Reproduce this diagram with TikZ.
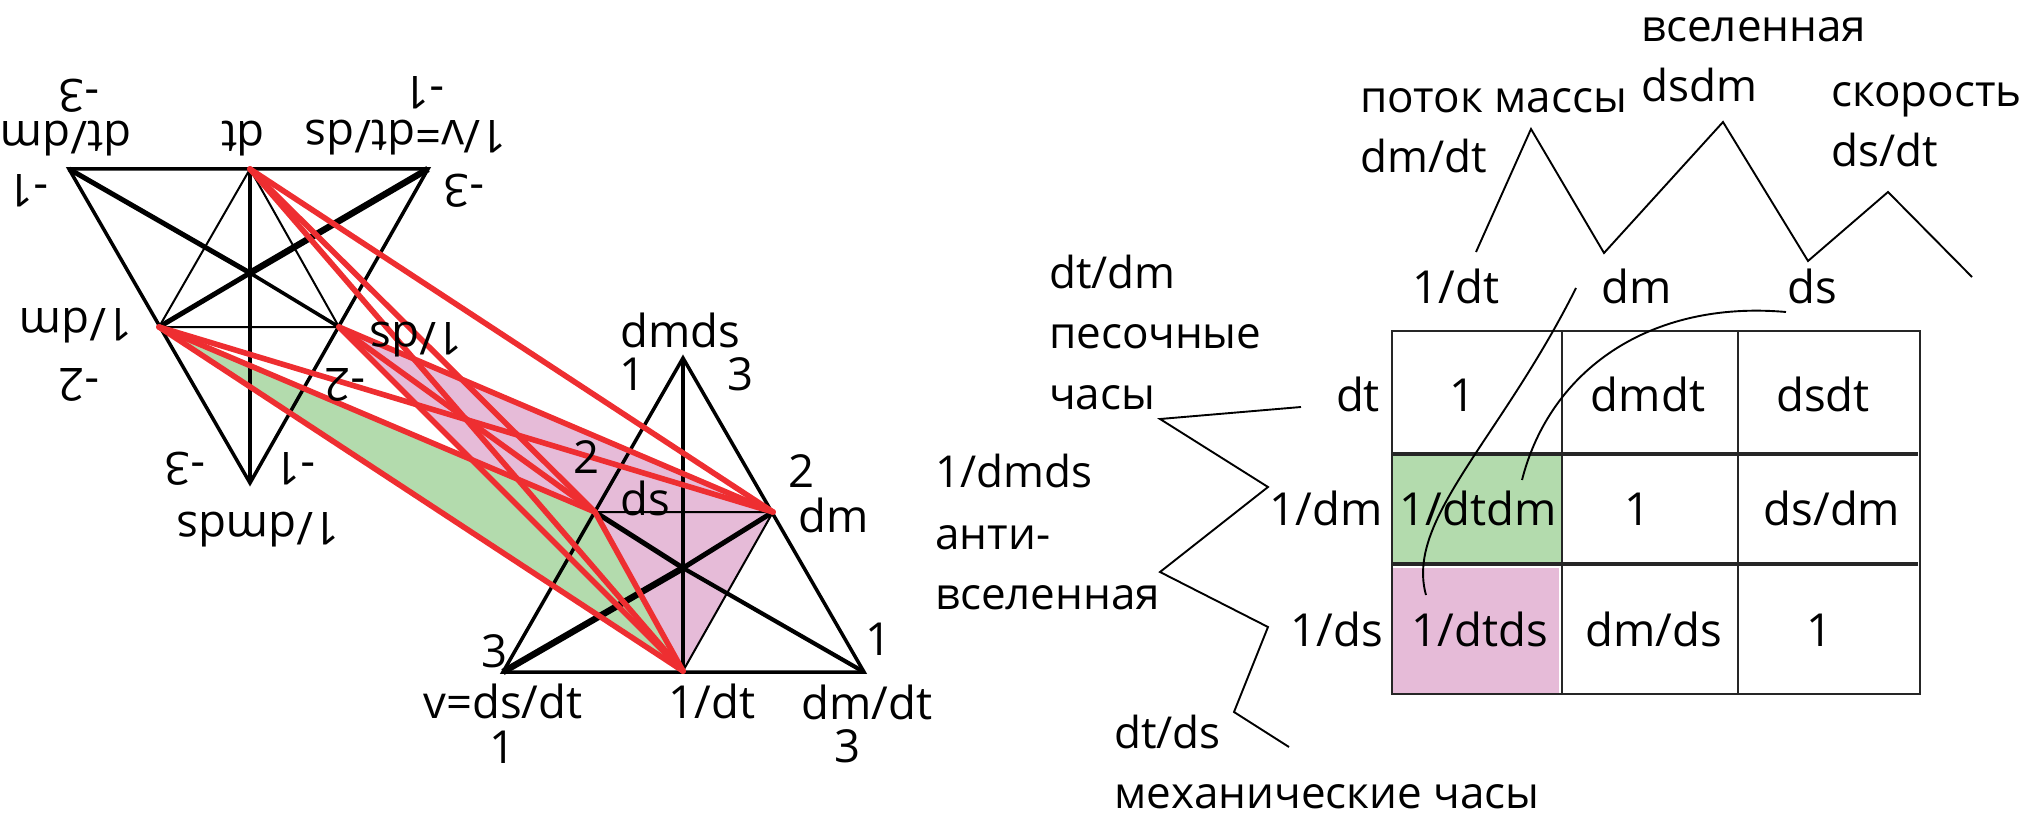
\documentclass[tikz,border=0pt]{standalone}
\usepackage{fontspec}
\setmainfont{Open Sans}
\definecolor{rd}{HTML}{EE2E31}
\definecolor{gr}{HTML}{B3DBAD}
\definecolor{pk}{HTML}{E6BBD8}
\tikzset{
 lb/.style={inner sep=0pt,anchor=base,font=\fontsize{45.5}{50}\selectfont},
 lbl/.style={inner sep=0pt,anchor=base west,font=\fontsize{44}{50}\selectfont},
 inv/.style={lb,rotate=180},
 tri/.style={line width=3.5pt,black,line join=miter},
 hair/.style={line width=2pt,black},
 thick1/.style={line width=5pt,black},
 thick2/.style={line width=6.5pt,black},
 redl/.style={line width=5.6pt,rd,line cap=round},
 wire/.style={line width=1.9pt,black},
 grid1/.style={line width=2.4pt,black!85},
 grid2/.style={line width=3.4pt,black!85},
}
\begin{document}
\begin{tikzpicture}[x=1pt,y=-1pt]
\useasboundingbox (0,0) rectangle (2027,821);
% vertices
\coordinate (A) at (69,169); \coordinate (B) at (428,169); \coordinate (C) at (250,483);
\coordinate (dt) at (250,169); \coordinate (mi) at (159,327); \coordinate (si) at (339,327); \coordinate (c1) at (250,273);
\coordinate (P) at (683,358); \coordinate (L) at (503,672); \coordinate (R) at (864,672);
\coordinate (idt) at (683,671); \coordinate (ds) at (595,512); \coordinate (dm) at (773,512); \coordinate (c2) at (683,568);
% fills
\fill[pk] (si) -- (dm) -- (idt) -- cycle;
\fill[gr] (mi) -- (ds) -- (idt) -- cycle;
% top triangle
\draw[tri] (A) -- (B) -- (C) -- cycle;
\draw[tri] (dt) -- (C);
\draw[hair] (dt) -- (mi) (dt) -- (si) (mi) -- (si);
\draw[thick1] (A) -- (c1) (c1) -- (mi);
\draw[line width=3.6pt] (c1) -- (si);
\draw[thick2] (B) -- (c1);
% bottom triangle
\draw[tri] (P) -- (L) -- (R) -- cycle;
\draw[tri] (P) -- (idt);
\draw[hair] (ds) -- (dm) (dm) -- (idt);
\draw[thick1] (ds) -- (c2);
\draw[thick1,line width=4.2pt] (c2) -- (R);
\draw[thick1] (c2) -- (dm);
\draw[thick2] (L) -- (c2);
% red
\foreach \a in {dt,mi,si}{\foreach \b in {dm,ds,idt}{\draw[redl] (\a) -- (\b);}}
\draw[redl] (ds) -- (idt);
% inverted labels
\node[inv] (t1) at (66,122) {dt/dm};
\node[inv] (t2) at (79,80) {-3};
\node[inv] (t3) at (243,122) {dt};
\node[inv] (t4) at (406,121) {1/v=dt/ds};
\node[inv] (t5) at (424,77) {-1};
\node[inv] (t6) at (28,175) {-1};
\node[inv] (t7) at (464,175) {-3};
\node[inv] (t8) at (76,308) {1/dm};
\node[inv] (t9) at (79,368) {-2};
\node[inv] (t10) at (416,322) {1/ds};
\node[inv] (t11) at (345,368) {-2};
\node[inv] (t12) at (185,452) {-3};
\node[inv] (t13) at (295,452) {-1};
\node[inv] (t14) at (258,512) {1/dmds};
% upright triangle labels
\node[lb] (b1) at (680,347) {dmds};
\node[lb] (b2) at (633,390) {1};
\node[lb] (b3) at (740,390) {3};
\node[lb] (b4) at (587,473) {2};
\node[lb] (b5) at (801,487) {2};
\node[lb] (b6) at (645,515) {ds};
\node[lb] (b7) at (834,532) {dm};
\node[lb] (b8) at (495,667) {3};
\node[lb] (b9) at (878,655) {1};
\node[lb] (b10) at (503,718) {v=ds/dt};
\node[lb] (b11) at (712,718) {1/dt};
\node[lb] (b12) at (867,719) {dm/dt};
\node[lb] (b13) at (503,763) {1};
\node[lb] (b14) at (847,762) {3};
% table
\fill[gr] (1393,454) rectangle (1562,564);
\fill[pk] (1393,568) rectangle (1559,694);
\draw[grid1] (1392,331) rectangle (1920,694);
\draw[grid1] (1562,331) -- (1562,694) (1738,331) -- (1738,694);
\draw[grid2] (1393,454) -- (1918,454);
\draw[grid2] (1393,564) -- (1918,564);
\node[lb] (h1) at (1456,303) {1/dt};
\node[lb] (h2) at (1637,303) {dm};
\node[lb] (h3) at (1812,303) {ds};
\node[lb] (r1) at (1358,411) {dt};
\node[lb] (r2) at (1326,525) {1/dm};
\node[lb] (r3) at (1337,646) {1/ds};
\node[lb] (c11) at (1462,411) {1};
\node[lb] (c12) at (1648,411) {dmdt};
\node[lb] (c13) at (1823,411) {dsdt};
\node[lb] (c21) at (1478,525) {1/dtdm};
\node[lb] (c22) at (1637,525) {1};
\node[lb] (c23) at (1832,525) {ds/dm};
\node[lb] (c31) at (1480,646) {1/dtds};
\node[lb] (c32) at (1654,646) {dm/ds};
\node[lb] (c33) at (1819,646) {1};
% side labels
\node[lbl] (l1) at (1049,288) {dt/dm};
\node[lbl] (l2) at (1049,348) {песочные};
\node[lbl] (l3) at (1049,409) {часы};
\node[lbl] (l4) at (935,487) {1/dmds};
\node[lbl] (l5) at (935,549) {анти-};
\node[lbl] (l6) at (935,609) {вселенная};
\node[lbl] (l7) at (1114,748) {dt/ds};
\node[lbl] (l8) at (1114,808) {механические часы};
\node[lbl] (u1) at (1641,42) {вселенная};
\node[lbl] (u2) at (1641,102) {dsdm};
\node[lbl] (u3) at (1360,113) {поток массы};
\node[lbl] (u4) at (1360,173) {dm/dt};
\node[lbl] (u5) at (1831,107) {скорость};
\node[lbl] (u6) at (1831,167) {ds/dt};
% wires
\coordinate (w1) at (1301,407); \coordinate (w2) at (1160,419); \coordinate (w3) at (1268,487);
\coordinate (w4) at (1160,572); \coordinate (w5) at (1268,627); \coordinate (w6) at (1234,712); \coordinate (w7) at (1289,747);
\draw[wire] (w1) -- (w2) -- (w3) -- (w4) -- (w5) -- (w6) -- (w7);
\coordinate (v1) at (1476,252); \coordinate (v2) at (1531,129); \coordinate (v3) at (1604,253);
\coordinate (v4) at (1723,122); \coordinate (v5) at (1808,261); \coordinate (v6) at (1888,192); \coordinate (v7) at (1972,277);
\draw[wire] (v1) -- (v2) -- (v3) -- (v4) -- (v5) -- (v6) -- (v7);
\coordinate (k1) at (1576,288); \coordinate (k2) at (1426,595);
\draw[wire] (k1) .. controls (1500,440) and (1405,520) .. (k2);
\coordinate (k3) at (1786,312); \coordinate (k4) at (1522,480);
\draw[wire] (k3) .. controls (1650,300) and (1550,370) .. (k4);
\end{tikzpicture}
\end{document}
